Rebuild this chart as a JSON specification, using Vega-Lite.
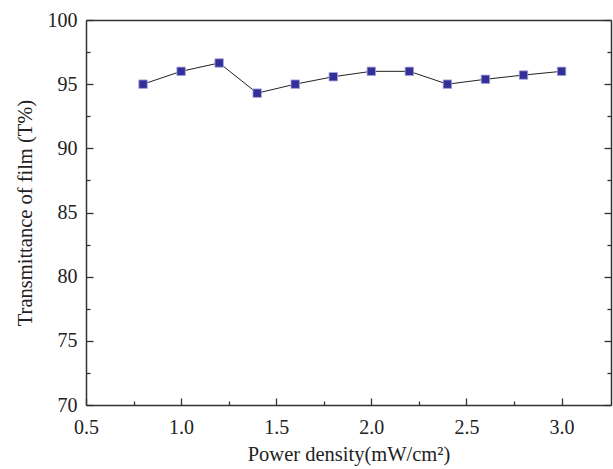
{
 "$schema": "https://vega.github.io/schema/vega-lite/v6.json",
 "width": 525, "height": 385,
 "autosize": {"type": "none"},
 "padding": {"left": 86, "top": 20, "right": 2, "bottom": 64},
 "background": "white",
 "config": {
  "view": {"stroke": null},
  "axis": {"domainColor": "#333", "domainWidth": 1.5, "tickColor": "#333", "tickWidth": 1.3,
   "labelFont": "Liberation Serif", "titleFont": "Liberation Serif", "labelFontSize": 20, "titleFontSize": 20.5,
   "labelColor": "#222", "titleColor": "#222", "grid": false, "titleFontWeight": "normal"}
 },
 "data": {"values": [
  {"p": 0.8, "t": 95.0}, {"p": 1.0, "t": 96.0}, {"p": 1.2, "t": 96.65}, {"p": 1.4, "t": 94.3},
  {"p": 1.6, "t": 95.0}, {"p": 1.8, "t": 95.58}, {"p": 2.0, "t": 96.0}, {"p": 2.2, "t": 96.0},
  {"p": 2.4, "t": 95.0}, {"p": 2.6, "t": 95.38}, {"p": 2.8, "t": 95.71}, {"p": 3.0, "t": 96.0}
 ]},
 "layer": [
  {"mark": {"type": "line", "color": "#222", "strokeWidth": 1},
   "encoding": {
    "x": {"field": "p", "type": "quantitative", "scale": {"domain": [0.5, 3.26], "nice": false, "zero": false},
     "axis": {"orient": "bottom", "title": "Power density(mW/cm²)", "values": [0.5,0.75,1,1.25,1.5,1.75,2,2.25,2.5,2.75,3],
      "format": ".1f", "labelExpr": "datum.value % 0.5 === 0 ? datum.label : ''",
      "tickSize": {"condition": {"test": "datum.value % 0.5 === 0", "value": -7}, "value": -4},
      "labelPadding": 19, "titlePadding": 7, "labelFlush": false}},
    "y": {"field": "t", "type": "quantitative", "scale": {"domain": [70, 100], "nice": false, "zero": false},
     "axis": {"orient": "left", "title": "Transmittance of film (T%)", "values": [70,72.5,75,77.5,80,82.5,85,87.5,90,92.5,95,97.5,100],
      "labelExpr": "datum.value % 5 === 0 ? datum.label : ''",
      "tickSize": {"condition": {"test": "datum.value % 5 === 0", "value": -7}, "value": -4},
      "labelPadding": 16, "titlePadding": 12}}
   }},
  {"mark": {"type": "point", "shape": "square", "filled": true, "size": 72, "fill": "#34309a", "stroke": "#aaa7da", "strokeWidth": 0.8, "opacity": 1},
   "encoding": {
    "x": {"field": "p", "type": "quantitative", "scale": {"domain": [0.5, 3.26], "nice": false, "zero": false}, "axis": null},
    "y": {"field": "t", "type": "quantitative", "scale": {"domain": [70, 100], "nice": false, "zero": false}, "axis": null}
   }},
  {"mark": {"type": "point", "opacity": 0},
   "encoding": {
    "x": {"field": "p", "type": "quantitative", "scale": {"domain": [0.5, 3.26], "nice": false, "zero": false},
     "axis": {"orient": "top", "title": null, "labels": false, "ticks": false}},
    "y": {"field": "t", "type": "quantitative", "scale": {"domain": [70, 100], "nice": false, "zero": false},
     "axis": {"orient": "right", "title": null, "labels": false, "values": [70,72.5,75,77.5,80,82.5,85,87.5,90,92.5,95,97.5,100],
      "tickSize": {"condition": {"test": "datum.value % 5 === 0", "value": -7}, "value": -4}}}
   }}
 ],
 "resolve": {"axis": {"x": "independent", "y": "independent"}}
}
